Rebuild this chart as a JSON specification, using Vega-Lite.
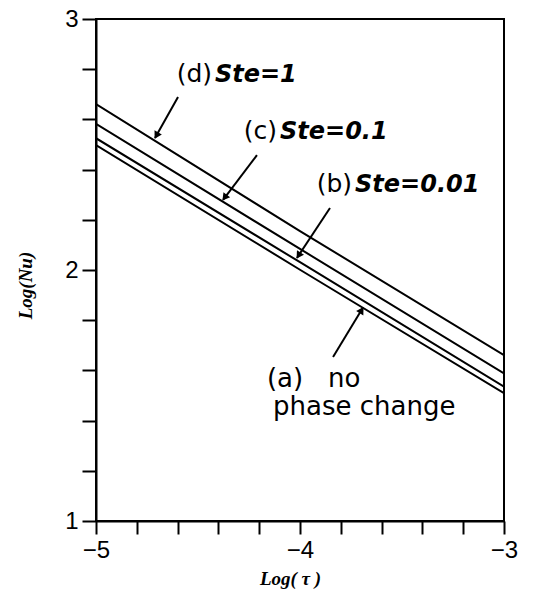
{
  "$schema": "https://vega.github.io/schema/vega-lite/v6.json",
  "width": 408,
  "height": 502,
  "autosize": "none",
  "padding": {"left": 96, "top": 19, "right": 29, "bottom": 73},
  "background": "white",
  "config": {
    "view": {"stroke": "black", "strokeWidth": 2},
    "axis": {
      "grid": false,
      "domainColor": "black",
      "domainWidth": 2,
      "tickColor": "black",
      "tickWidth": 2,
      "labelColor": "black",
      "labelFont": "Liberation Sans",
      "labelFontSize": 24,
      "labelFlush": false,
      "labelOverlap": false,
      "titleColor": "black",
      "titleFont": "Liberation Serif",
      "titleFontStyle": "italic",
      "titleFontWeight": "bold",
      "titleFontSize": 19
    }
  },
  "layer": [
    {
      "data": {
        "values": [
          {"series": "a", "logtau": -5, "lognu": 2.498},
          {"series": "a", "logtau": -4, "lognu": 2.001},
          {"series": "a", "logtau": -3, "lognu": 1.509},
          {"series": "b", "logtau": -5, "lognu": 2.525},
          {"series": "b", "logtau": -4, "lognu": 2.031},
          {"series": "b", "logtau": -3, "lognu": 1.535},
          {"series": "c", "logtau": -5, "lognu": 2.582},
          {"series": "c", "logtau": -4, "lognu": 2.084},
          {"series": "c", "logtau": -3, "lognu": 1.588},
          {"series": "d", "logtau": -5, "lognu": 2.661},
          {"series": "d", "logtau": -4, "lognu": 2.155},
          {"series": "d", "logtau": -3, "lognu": 1.661}
        ]
      },
      "mark": {"type": "line", "color": "black", "strokeWidth": 2, "clip": true},
      "encoding": {
        "x": {
          "field": "logtau",
          "type": "quantitative",
          "scale": {"domain": [-5, -3], "nice": false, "zero": false},
          "axis": {
            "title": "Log( τ )",
            "values": [-5, -4.8, -4.6, -4.4, -4.2, -4, -3.8, -3.6, -3.4, -3.2, -3],
            "labelExpr": "abs(datum.value - round(datum.value)) < 0.001 ? format(datum.value, 'd') : ''",
            "tickSize": 13,
            "labelPadding": 4,
            "titleX": 194,
            "titleY": 57,
            "titleBaseline": "middle"
          }
        },
        "y": {
          "field": "lognu",
          "type": "quantitative",
          "scale": {"domain": [1, 3], "nice": false, "zero": false},
          "axis": {
            "title": "Log(Nu)",
            "values": [1, 1.2, 1.4, 1.6, 1.8, 2, 2.2, 2.4, 2.6, 2.8, 3],
            "labelExpr": "abs(datum.value - round(datum.value)) < 0.001 ? format(datum.value, 'd') : ''",
            "tickSize": 14,
            "labelPadding": 4,
            "titleAngle": -90,
            "titleX": -71,
            "titleY": 266,
            "titleAlign": "center",
            "titleBaseline": "middle"
          }
        },
        "detail": {"field": "series"}
      }
    },
    {
      "data": {
        "values": [
          {"arrow": "d", "x1": -4.598, "y1": 2.689, "x2": -4.711, "y2": 2.526},
          {"arrow": "c", "x1": -4.211, "y1": 2.458, "x2": -4.377, "y2": 2.279},
          {"arrow": "b", "x1": -3.853, "y1": 2.247, "x2": -4.015, "y2": 2.048},
          {"arrow": "a", "x1": -3.838, "y1": 1.653, "x2": -3.691, "y2": 1.851}
        ]
      },
      "mark": {"type": "rule", "color": "black", "strokeWidth": 2},
      "encoding": {
        "x": {"field": "x1", "type": "quantitative"},
        "y": {"field": "y1", "type": "quantitative"},
        "x2": {"field": "x2"},
        "y2": {"field": "y2"}
      }
    },
    {
      "data": {
        "values": [
          {"arrow": "d", "hx": -4.701, "hy": 2.540, "dir": 209},
          {"arrow": "c", "hx": -4.366, "hy": 2.292, "dir": 217},
          {"arrow": "b", "hx": -4.004, "hy": 2.062, "dir": 213},
          {"arrow": "a", "hx": -3.701, "hy": 1.836, "dir": 31}
        ]
      },
      "mark": {"type": "point", "shape": "triangle", "filled": true, "color": "black", "size": 70, "opacity": 1},
      "encoding": {
        "x": {"field": "hx", "type": "quantitative"},
        "y": {"field": "hy", "type": "quantitative"},
        "angle": {"field": "dir", "type": "quantitative", "scale": null}
      }
    },
    {
      "data": {
        "values": [
          {"label": "(d)", "tx": -4.431, "ty": 2.750},
          {"label": "(c)", "tx": -4.113, "ty": 2.521},
          {"label": "(b)", "tx": -3.745, "ty": 2.310}
        ]
      },
      "mark": {"type": "text", "align": "right", "baseline": "alphabetic", "font": "DejaVu Sans", "fontSize": 25, "color": "black"},
      "encoding": {
        "x": {"field": "tx", "type": "quantitative"},
        "y": {"field": "ty", "type": "quantitative"},
        "text": {"field": "label"}
      }
    },
    {
      "data": {
        "values": [
          {"label": "Ste=1", "tx": -4.417, "ty": 2.750},
          {"label": "Ste=0.1", "tx": -4.098, "ty": 2.521},
          {"label": "Ste=0.01", "tx": -3.730, "ty": 2.310}
        ]
      },
      "mark": {"type": "text", "align": "left", "baseline": "alphabetic", "font": "DejaVu Sans", "fontSize": 24, "fontStyle": "italic", "fontWeight": "bold", "color": "black"},
      "encoding": {
        "x": {"field": "tx", "type": "quantitative"},
        "y": {"field": "ty", "type": "quantitative"},
        "text": {"field": "label"}
      }
    },
    {
      "data": {
        "values": [
          {"label": "(a)", "tx": -4.162, "ty": 1.534},
          {"label": "no", "tx": -3.863, "ty": 1.534},
          {"label": "phase change", "tx": -4.132, "ty": 1.422}
        ]
      },
      "mark": {"type": "text", "align": "left", "baseline": "alphabetic", "font": "DejaVu Sans", "fontSize": 26, "color": "black"},
      "encoding": {
        "x": {"field": "tx", "type": "quantitative"},
        "y": {"field": "ty", "type": "quantitative"},
        "text": {"field": "label"}
      }
    }
  ]
}
